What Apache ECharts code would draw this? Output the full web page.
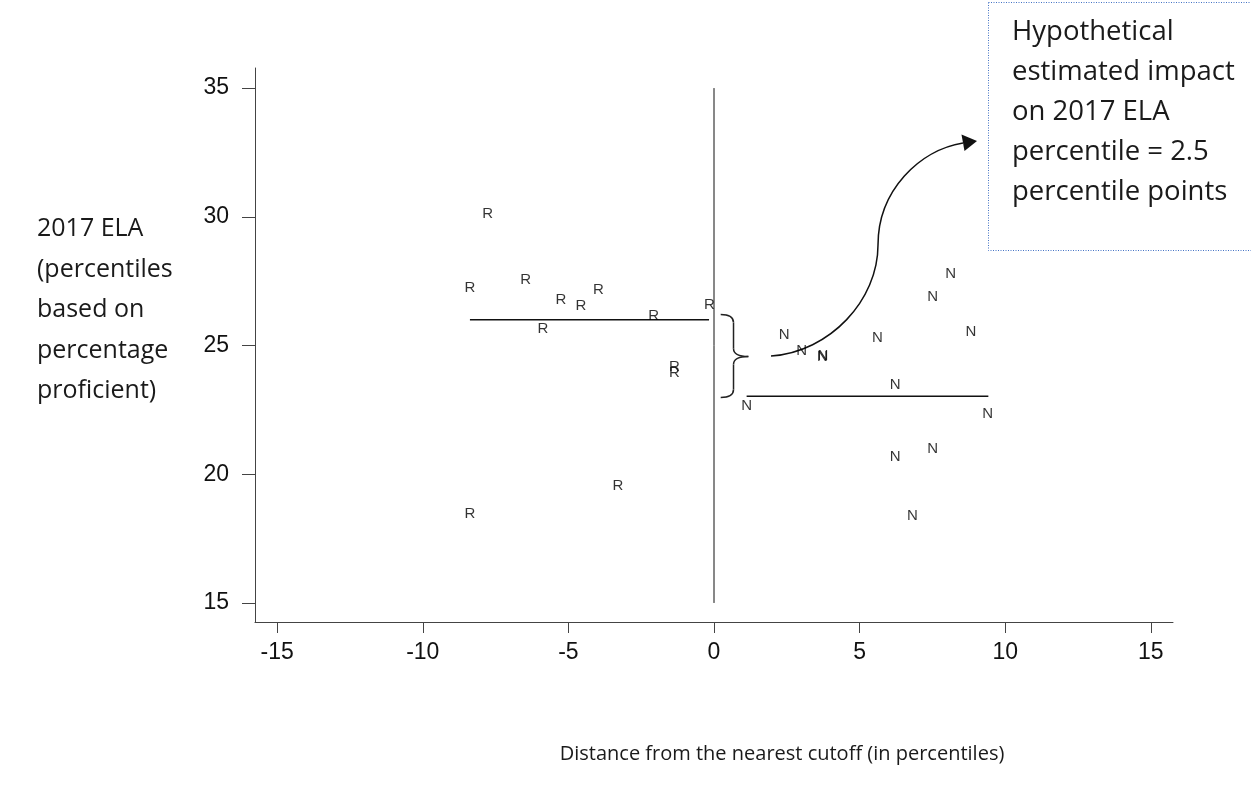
<!DOCTYPE html>
<html>
<head>
<meta charset="utf-8">
<title>2017 ELA vs distance from cutoff</title>
<script src="https://cdn.jsdelivr.net/npm/echarts@6/dist/echarts.min.js"></script>
<style>html,body{margin:0;padding:0;background:#fff;}</style>
</head>
<body>
<div id="main" style="width:1251px;height:802px;"></div>
<script type="text/javascript">
// schools below the cutoff (R) and above it (N): [distance, 2017 ELA percentile]
var rPoints = [[-7.77, 30.12], [-8.38, 27.25], [-6.47, 27.56], [-5.26, 26.76], [-4.57, 26.53],
    [-3.97, 27.17], [-5.87, 25.66], [-2.07, 26.16], [-0.16, 26.59], [-1.36, 24.16],
    [-1.36, 23.92], [-3.30, 19.53], [-8.38, 18.46]];
var nPoints = [[2.41, 25.40], [3.01, 24.79], [3.72, 24.56], [3.74, 24.58], [5.61, 25.30],
    [8.13, 27.77], [7.51, 26.89], [8.82, 25.53], [6.22, 23.48], [1.12, 22.65],
    [9.40, 22.36], [7.51, 21.00], [6.22, 20.67], [6.81, 18.38]];
// group means and the x span they are drawn over
var rMean = 26.0, rSpan = [-8.38, -0.17];
var nMean = 23.03, nSpan = [1.12, 9.42];
var xTicks = [-15, -10, -5, 0, 5, 10, 15];
var yTicks = [15, 20, 25, 30, 35];
var yTitleLines = ['2017 ELA', '(percentiles', 'based on', 'percentage', 'proficient)'];
var xTitle = 'Distance from the nearest cutoff (in percentiles)';
var boxLines = ['Hypothetical', 'estimated impact', 'on 2017 ELA', 'percentile = 2.5', 'percentile points'];

var chart = echarts.init(document.getElementById('main'));
var tickFont = 'Liberation Sans, Arial, sans-serif';
var textFont = 'Open Sans, sans-serif';

function letterSeries(pts, ch) {
    return {
        type: 'scatter',
        data: pts,
        symbol: 'rect',
        symbolSize: 1,
        itemStyle: { color: 'rgba(0,0,0,0)' },
        label: {
            show: true, position: 'inside', formatter: ch,
            fontSize: 15, fontFamily: tickFont, color: '#000'
        },
        z: 5
    };
}
function flatLine(data, w) {
    return {
        type: 'line', data: data, symbol: 'none', silent: true,
        lineStyle: { color: '#111', width: w }
    };
}

chart.setOption({
    animation: false,
    grid: { left: 255, right: 78, top: 68, bottom: 180 },
    xAxis: {
        type: 'value', min: -15.76, max: 15.76,
        splitLine: { show: false },
        axisLine: { onZero: false, lineStyle: { color: '#444', width: 1 } },
        axisTick: { length: 11, customValues: xTicks, lineStyle: { color: '#444' } },
        axisLabel: { customValues: xTicks, fontSize: 23, fontFamily: tickFont, color: '#111', margin: 19 }
    },
    yAxis: {
        type: 'value', min: 14.26, max: 35.78,
        splitLine: { show: false },
        axisLine: { show: true, onZero: false, lineStyle: { color: '#444', width: 1 } },
        axisTick: { show: true, length: 13, customValues: yTicks, lineStyle: { color: '#444' } },
        axisLabel: { customValues: yTicks, fontSize: 23, fontFamily: tickFont, color: '#111', margin: 26 }
    },
    series: [
        letterSeries(rPoints, 'R'),
        letterSeries(nPoints, 'N'),
        flatLine([[rSpan[0], rMean], [rSpan[1], rMean]], 1.5),
        flatLine([[nSpan[0], nMean], [nSpan[1], nMean]], 1.5),
        flatLine([[0, 15], [0, 35]], 1)
    ]
});

// brace between the two means, placed in data space
function px(x, y) { return chart.convertToPixel({ gridIndex: 0 }, [x, y]); }
var bTop = px(0.23, 26.2), bBot = px(0.23, 22.98), bMid = px(0.67, 24.57), bTip = px(1.18, 24.57);
var xm = bMid[0], ym = bMid[1], r = 8;
var braceStyle = { fill: null, stroke: '#222', lineWidth: 1.5 };
function quad(x1, y1, cx, cy, x2, y2) {
    return { type: 'bezierCurve', shape: { x1: x1, y1: y1, cpx1: cx, cpy1: cy, x2: x2, y2: y2 }, style: braceStyle };
}
function seg(x1, y1, x2, y2) {
    return { type: 'line', shape: { x1: x1, y1: y1, x2: x2, y2: y2 }, style: braceStyle };
}
var brace = [
    quad(bTop[0], bTop[1], xm, bTop[1], xm, bTop[1] + r),
    seg(xm, bTop[1] + r, xm, ym - r),
    quad(xm, ym - r, xm, ym, bTip[0], ym),
    quad(bTip[0], ym, xm, ym, xm, ym + r),
    seg(xm, ym + r, xm, bBot[1] - r),
    quad(xm, bBot[1] - r, xm, bBot[1], bBot[0], bBot[1])
];

chart.setOption({
    graphic: brace.concat([
        // curved arrow to the note
        { type: 'bezierCurve', shape: { x1: 771, y1: 356, cpx1: 830, cpy1: 352, cpx2: 878, cpy2: 300, x2: 878, y2: 245 },
          style: { fill: null, stroke: '#111', lineWidth: 1.5 } },
        { type: 'bezierCurve', shape: { x1: 878, y1: 245, cpx1: 878, cpy1: 190, cpx2: 920, cpy2: 150, x2: 963, y2: 143 },
          style: { fill: null, stroke: '#111', lineWidth: 1.5 } },
        { type: 'polygon', shape: { points: [[977, 141], [961.5, 134.5], [964.5, 151]] }, style: { fill: '#111' } },
        // note box
        { type: 'rect', shape: { x: 988.5, y: 2.5, width: 300, height: 248 },
          style: { fill: '#fff', stroke: '#4472C4', lineWidth: 1, lineDash: [1, 1.5] } },
        { type: 'text', x: 1012, y: 12,
          style: { text: boxLines.join('\n'), fontSize: 27.5, fontFamily: textFont, lineHeight: 40, fill: '#1a1a1a', verticalAlign: 'top' } },
        // axis titles
        { type: 'text', x: 37, y: 209,
          style: { text: yTitleLines.join('\n'), fontSize: 25, fontFamily: textFont, lineHeight: 40.5, fill: '#1a1a1a', verticalAlign: 'top' } },
        { type: 'text', x: 782, y: 754,
          style: { text: xTitle, fontSize: 20, fontFamily: textFont, fill: '#1a1a1a', align: 'center', verticalAlign: 'middle' } }
    ])
});
</script>
</body>
</html>
